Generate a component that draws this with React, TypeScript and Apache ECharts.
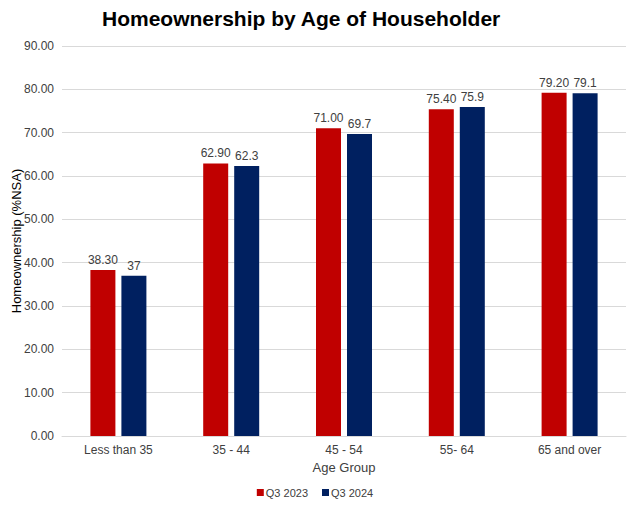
import { useEffect, useRef } from 'react';
import * as echarts from 'echarts';

const categories = ['Less than 35', '35 - 44', '45 - 54', '55- 64', '65 and over'];
const q32023 = [38.3, 62.9, 71.0, 75.4, 79.2];
const q32024 = [37, 62.3, 69.7, 75.9, 79.1];
const seriesNames = ['Q3 2023', 'Q3 2024'];

export default function App() {
  const chartRef = useRef<HTMLDivElement>(null);

  useEffect(() => {
    if (!chartRef.current) return;
    const chart = echarts.init(chartRef.current, null, { renderer: 'svg' });
    const font = 'Liberation Sans, Arial, sans-serif';
    const textColor = '#404040';

    const option: echarts.EChartsOption = {
      animation: false,
      backgroundColor: '#ffffff',
      textStyle: { fontFamily: font },
      title: {
        text: 'Homeownership by Age of Householder',
        left: 102,
        top: 8,
        padding: 0,
        textStyle: { fontFamily: font, fontSize: 21, fontWeight: 'bold', color: '#000000' },
      },
      legend: {
        bottom: 7,
        left: 'center',
        itemWidth: 7,
        itemHeight: 7,
        itemGap: 14,
        icon: 'rect',
        textStyle: { fontFamily: font, fontSize: 11, color: textColor, padding: [0, 0, 0, -3] },
        data: seriesNames,
      },
      grid: {
        left: 62,
        right: 4,
        top: 46,
        bottom: 74,
        containLabel: false,
        outerBoundsMode: 'none',
      } as any,
      xAxis: {
        type: 'category',
        data: categories,
        name: 'Age Group',
        nameLocation: 'middle',
        nameGap: 25,
        nameMoveOverlap: false,
        nameTextStyle: { fontFamily: font, fontSize: 13, color: textColor },
        axisLine: { lineStyle: { color: '#d9d9d9' } },
        axisTick: { show: false },
        axisLabel: { color: textColor, fontSize: 12, margin: 8, fontFamily: font },
      } as any,
      yAxis: {
        type: 'value',
        min: 0,
        max: 90,
        interval: 10,
        name: 'Homeownership (%NSA)',
        nameLocation: 'middle',
        nameGap: 39,
        nameMoveOverlap: false,
        nameTextStyle: { fontFamily: font, fontSize: 13, color: '#000000' },
        axisLine: { show: false },
        axisTick: { show: false },
        axisLabel: {
          color: textColor,
          fontSize: 12,
          margin: 8,
          fontFamily: font,
          formatter: (v: number) => v.toFixed(2),
        },
        splitLine: { lineStyle: { color: '#d9d9d9', width: 1 } },
      } as any,
      series: [
        {
          name: seriesNames[0],
          type: 'bar',
          data: q32023,
          barWidth: 25,
          barGap: '24%',
          itemStyle: { color: '#C00000' },
          label: {
            show: true,
            position: 'top',
            distance: 4,
            color: textColor,
            fontSize: 12,
            fontFamily: font,
            formatter: (p: any) => Number(p.value).toFixed(2),
          },
        },
        {
          name: seriesNames[1],
          type: 'bar',
          data: q32024,
          barWidth: 25,
          barGap: '24%',
          itemStyle: { color: '#002060' },
          label: {
            show: true,
            position: 'top',
            distance: 4,
            color: textColor,
            fontSize: 12,
            fontFamily: font,
            formatter: (p: any) => String(p.value),
          },
        },
      ],
    };

    chart.setOption(option);
    return () => {
      chart.dispose();
    };
  }, []);

  return (
    <div
      ref={chartRef}
      style={{ position: 'fixed', left: 0, top: 0, width: 630, height: 510 }}
    />
  );
}
